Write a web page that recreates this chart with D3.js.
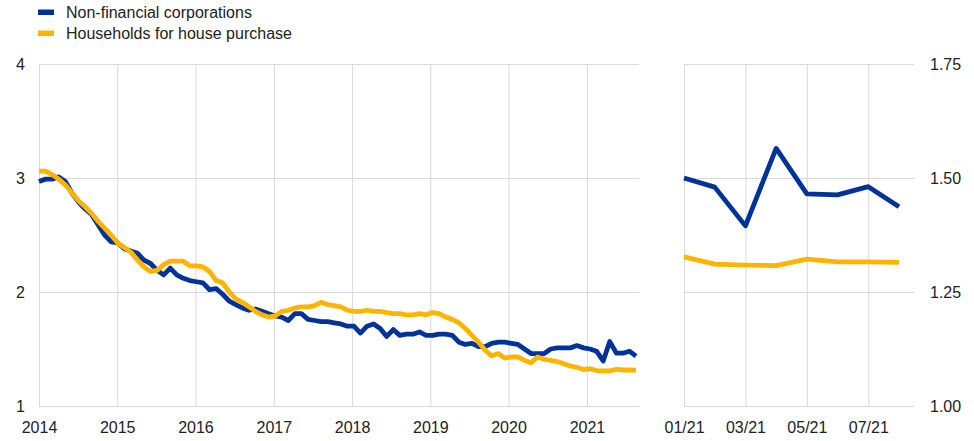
<!DOCTYPE html>
<head>
  <meta charset="utf-8">
  <script src="https://d3js.org/d3.v7.min.js"></script>
  <style>
body {
	margin:0;
	background:#fff;
	}
svg text {
	font-family: "Liberation Sans", Arial, sans-serif;
	font-size: 16px;
	fill: #222;
	}
.grid line {
	stroke: #d9d9d9;
	stroke-width: 1;
	}
.grid .domain {
	display: none;
	}
.axis .domain {
	display: none;
	}
.line {
	fill: none;
	stroke-width: 4.8;
	stroke-linejoin: round;
	}
  </style>
</head>

<body>
  <div id="graph"></div>
<script>
// Series names and colours
var seriesNames = ["Non-financial corporations", "Households for house purchase"];
var seriesColors = ["#003299", "#ffb400"];

// Monthly composite cost of borrowing, Jan 2014 - Aug 2021
var nfc = [
  2.97, 2.99, 2.99, 3.01, 2.97, 2.87, 2.79, 2.73, 2.68, 2.59, 2.50, 2.44,
  2.43, 2.38, 2.36, 2.34, 2.28, 2.25, 2.19, 2.15, 2.21, 2.15, 2.12, 2.10,
  2.09, 2.08, 2.02, 2.03, 1.98, 1.92, 1.89, 1.86, 1.84, 1.85, 1.83, 1.81,
  1.79, 1.78, 1.75, 1.81, 1.81, 1.76, 1.75, 1.74, 1.74, 1.73, 1.72, 1.70,
  1.70, 1.64, 1.70, 1.72, 1.68, 1.61, 1.67, 1.62, 1.63, 1.63, 1.65, 1.62,
  1.62, 1.63, 1.63, 1.62, 1.56, 1.54, 1.55, 1.52, 1.52, 1.55, 1.56, 1.56,
  1.55, 1.54, 1.50, 1.46, 1.46, 1.46, 1.50, 1.51, 1.51, 1.51, 1.53, 1.51,
  1.50, 1.48, 1.395, 1.565, 1.465, 1.463, 1.481, 1.437
];
var hh = [
  3.06, 3.06, 3.03, 2.99, 2.94, 2.87, 2.80, 2.75, 2.69, 2.62, 2.56, 2.50,
  2.43, 2.39, 2.35, 2.28, 2.22, 2.18, 2.19, 2.24, 2.27, 2.27, 2.27, 2.23,
  2.23, 2.22, 2.18, 2.10, 2.08, 2.00, 1.94, 1.91, 1.87, 1.83, 1.80, 1.78,
  1.79, 1.83, 1.84, 1.86, 1.87, 1.87, 1.88, 1.91, 1.89, 1.88, 1.87, 1.84,
  1.83, 1.83, 1.84, 1.83, 1.83, 1.82, 1.81, 1.81, 1.80, 1.80, 1.81, 1.80,
  1.82, 1.81, 1.78, 1.76, 1.73, 1.68, 1.62, 1.56, 1.49, 1.44, 1.46, 1.42,
  1.43, 1.43, 1.40, 1.38, 1.43, 1.41, 1.40, 1.39, 1.37, 1.35, 1.34, 1.32,
  1.327, 1.311, 1.309, 1.308, 1.322, 1.316, 1.316, 1.315
];

// Zoomed panel: 2021 only
var recentMonths = ["01/21", "02/21", "03/21", "04/21", "05/21", "06/21", "07/21", "08/21"];
var nfcRecent = [1.50, 1.48, 1.395, 1.565, 1.465, 1.463, 1.481, 1.437];
var hhRecent = [1.327, 1.311, 1.309, 1.308, 1.322, 1.316, 1.316, 1.315];

// Tick values
var leftTicks = [1, 2, 3, 4];
var rightTicks = [1.00, 1.25, 1.50, 1.75];
var recentTicks = ["01/21", "03/21", "05/21", "07/21"];

// Month dates for the long series
var months = d3.timeMonth.range(new Date(2014, 0, 1), new Date(2021, 8, 1));
var years = d3.timeYear.range(new Date(2014, 0, 1), new Date(2022, 0, 1));

var width = 974, height = 441;
var plotTop = 64, plotBottom = 406;

var svg = d3.select("#graph")
        .append("svg")
        .attr("width", width)
        .attr("height", height);

// ---- Left panel ----
// time scale for the year grid and labels
var x = d3.scaleTime()
    .domain([new Date(2014, 0, 1), new Date(2021, 8, 1)])
    .range([39, 639]);
// point scale for the monthly observations
var xm = d3.scalePoint().domain(months).range([39, 636]);
var y = d3.scaleLinear().domain([1, 4]).range([plotBottom, plotTop]);

// vertical grid
svg.append("g")
    .attr("class", "grid")
    .attr("transform", "translate(0," + plotBottom + ")")
    .call(d3.axisBottom(x)
        .tickValues(years)
        .tickSize(-(plotBottom - plotTop))
        .tickFormat(""));

// horizontal grid
svg.append("g")
    .attr("class", "grid")
    .attr("transform", "translate(39,0)")
    .call(d3.axisLeft(y)
        .tickValues(leftTicks)
        .tickSize(-600)
        .tickFormat(""));

// x axis labels
svg.append("g")
    .attr("class", "axis")
    .attr("transform", "translate(0," + plotBottom + ")")
    .call(d3.axisBottom(x)
        .tickValues(years)
        .tickSize(0)
        .tickPadding(15.5)
        .tickFormat(d3.timeFormat("%Y")));

// y axis labels
svg.append("g")
    .attr("class", "axis")
    .attr("transform", "translate(39,0)")
    .call(d3.axisLeft(y)
        .tickValues(leftTicks)
        .tickSize(0)
        .tickPadding(14)
        .tickFormat(d3.format("d")));

var line = d3.line()
    .x(function(d, i) { return xm(months[i]); })
    .y(function(d) { return y(d); });

// households drawn last, on top
[nfc, hh].forEach(function(s, k) {
  svg.append("path")
      .datum(s)
      .attr("class", "line")
      .style("stroke", seriesColors[k])
      .attr("d", line);
});

// ---- Right panel ----
var x2 = d3.scalePoint().domain(recentMonths).range([684, 899]);
var y2 = d3.scaleLinear().domain([1, 1.75]).range([plotBottom, plotTop]);

svg.append("g")
    .attr("class", "grid")
    .attr("transform", "translate(0," + plotBottom + ")")
    .call(d3.axisBottom(x2)
        .tickValues(recentTicks)
        .tickSize(-(plotBottom - plotTop))
        .tickFormat(""));

svg.append("g")
    .attr("class", "grid")
    .attr("transform", "translate(914,0)")
    .call(d3.axisRight(y2)
        .tickValues(rightTicks)
        .tickSize(-(914 - 684))
        .tickFormat(""));

svg.append("g")
    .attr("class", "axis")
    .attr("transform", "translate(0," + plotBottom + ")")
    .call(d3.axisBottom(x2)
        .tickValues(recentTicks)
        .tickSize(0)
        .tickPadding(15.5));

svg.append("g")
    .attr("class", "axis")
    .attr("transform", "translate(914,0)")
    .call(d3.axisRight(y2)
        .tickValues(rightTicks)
        .tickSize(0)
        .tickPadding(16)
        .tickFormat(d3.format(".2f")));

var line2 = d3.line()
    .x(function(d, i) { return x2(recentMonths[i]); })
    .y(function(d) { return y2(d); });

[nfcRecent, hhRecent].forEach(function(s, k) {
  svg.append("path")
      .datum(s)
      .attr("class", "line")
      .style("stroke", seriesColors[k])
      .attr("d", line2);
});

// ---- Legend ----
var legend = svg.append("g");
seriesNames.forEach(function(name, i) {
  legend.append("rect")
      .attr("x", 38)
      .attr("y", 9.5 + i * 21)
      .attr("width", 16)
      .attr("height", 5.5)
      .style("fill", seriesColors[i]);
  legend.append("text")
      .attr("x", 66)
      .attr("y", 18.3 + i * 20.5)
      .text(name);
});
</script>
</body>
